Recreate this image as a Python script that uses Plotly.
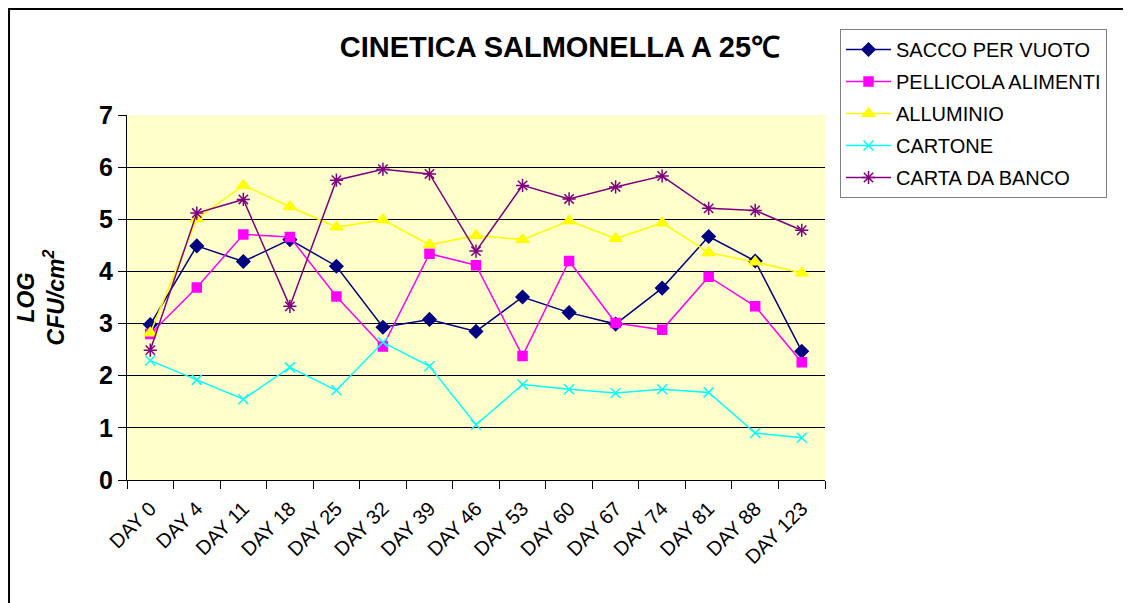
import plotly.graph_objects as go

# categories on the x axis
days = ["DAY 0", "DAY 4", "DAY 11", "DAY 18", "DAY 25", "DAY 32", "DAY 39", "DAY 46",
        "DAY 53", "DAY 60", "DAY 67", "DAY 74", "DAY 81", "DAY 88", "DAY 123"]

# log CFU/cm2 per packaging material
sacco_per_vuoto = [2.98, 4.49, 4.19, 4.61, 4.10, 2.93, 3.08, 2.85, 3.51, 3.21, 2.99, 3.68, 4.67, 4.20, 2.47]
pellicola_alimenti = [2.80, 3.69, 4.71, 4.66, 3.52, 2.56, 4.34, 4.12, 2.38, 4.20, 3.01, 2.88, 3.90, 3.33, 2.26]
alluminio = [2.82, 5.01, 5.65, 5.24, 4.85, 4.99, 4.51, 4.69, 4.61, 4.97, 4.63, 4.93, 4.36, 4.18, 3.97]
cartone = [2.29, 1.92, 1.55, 2.16, 1.72, 2.64, 2.18, 1.06, 1.83, 1.74, 1.67, 1.74, 1.68, 0.90, 0.81]
carta_da_banco = [2.49, 5.12, 5.38, 3.33, 5.75, 5.96, 5.87, 4.39, 5.65, 5.39, 5.62, 5.83, 5.21, 5.17, 4.79]

y_ticks = [0, 1, 2, 3, 4, 5, 6, 7]

FONT = "Liberation Sans, Arial, sans-serif"

fig = go.Figure()

series = [
    ("SACCO PER VUOTO", sacco_per_vuoto, "#000080", "diamond", 10),
    ("PELLICOLA ALIMENTI", pellicola_alimenti, "#FF00FF", "square", 9),
    ("ALLUMINIO", alluminio, "#FFFF00", "triangle-up", 11),
    ("CARTONE", cartone, "#00FFFF", "x-thin-open", 10),
    ("CARTA DA BANCO", carta_da_banco, "#800080", "asterisk-open", 11),
]

for name, vals, color, symbol, size in series:
    fig.add_trace(go.Scatter(
        x=days, y=vals, name=name, mode="lines+markers", legendgroup=name,
        line=dict(color=color, width=1.5),
        marker=dict(symbol=symbol, size=size, color=color,
                    line=dict(color=color, width=1.5)),
    ))

# the page body adds an 8px offset, so the plot box is placed 8px up/left
# outer chart frame: only left and top edges show, the rest runs off the picture
fig.add_shape(type="rect", xref="paper", yref="paper",
              x0=-0.169, x1=1.46, y0=-0.40, y1=1.2904,
              line=dict(color="black", width=2), layer="below")

fig.update_layout(
    width=1131, height=603,
    paper_bgcolor="white",
    plot_bgcolor="#FFFFCC",
    margin=dict(l=119, r=314, t=107, b=131, autoexpand=False),
    font=dict(family=FONT, color="black"),
    title=dict(text="<b>CINETICA SALMONELLA A 25℃</b>",
               x=0.488, xanchor="center", y=0.935, yanchor="middle",
               font=dict(size=29, family=FONT, color="black")),
    showlegend=True,
    legend=dict(x=1.0215, y=1.2356, xanchor="left", yanchor="top",
                bgcolor="white", bordercolor="#808080", borderwidth=1,
                font=dict(size=20, family=FONT, color="black"),
                tracegroupgap=3, itemwidth=45),
)

fig.update_xaxes(
    type="category", range=[-0.5, 14.5], automargin=False,
    tickson="boundaries", ticks="outside", ticklen=8, tickcolor="black",
    showline=True, linecolor="black", linewidth=1,
    showgrid=False, tickangle=-45, ticklabelstandoff=8,
    tickfont=dict(size=20, family=FONT, color="black"),
)

fig.update_yaxes(
    range=[0, 7], tickvals=y_ticks, automargin=False,
    ticks="outside", ticklen=8, tickcolor="black",
    showline=True, linecolor="black", linewidth=1,
    showgrid=True, gridcolor="black", gridwidth=1, zeroline=False,
    tickfont=dict(size=25, family=FONT, color="black", weight="bold"),
    ticklabelstandoff=0,
    title=dict(text="<b><i>LOG<br>CFU/cm<sup>2</sup></i></b>", standoff=28,
               font=dict(size=23, family=FONT, color="black")),
)

fig.write_html("out.html")
